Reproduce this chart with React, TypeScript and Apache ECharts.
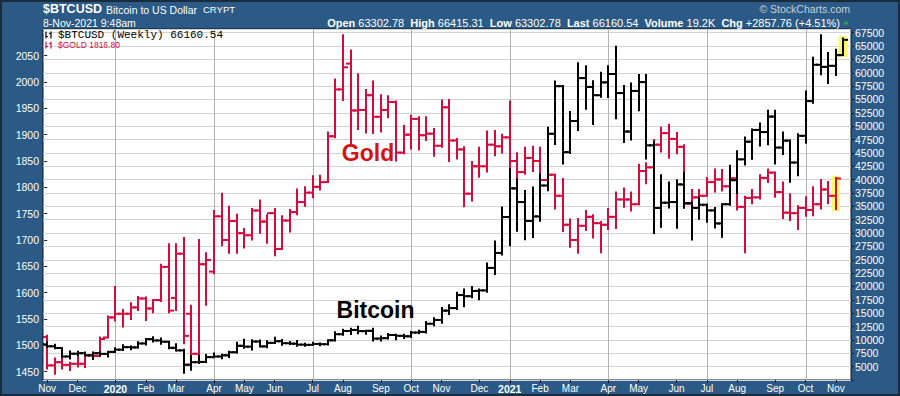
import React, { useEffect, useRef } from "react";
import * as echarts from "echarts";

// ---- weekly bars, first week = 4-Nov-2019 (index 0) ----
// Bitcoin weekly [open, high, low, close]
const btcBars: number[][] = [
  [9180, 9505, 8720, 8810], [8810, 9100, 8450, 8500], [8500, 8510, 6790, 6900], [6900, 7820, 6530, 7420],
  [7420, 7800, 7150, 7510], [7510, 7640, 7080, 7110], [7110, 7520, 6430, 7510], [7510, 7700, 7050, 7390],
  [7390, 7800, 6900, 7760], [7760, 8460, 7740, 8180], [8180, 9000, 8110, 8650], [8650, 8750, 8270, 8600],
  [8600, 9560, 8570, 9340], [9340, 10160, 9140, 10150], [10150, 10500, 9700, 9900], [9900, 10250, 9300, 9660],
  [9660, 9680, 8450, 8520], [8520, 9180, 8000, 8040], [8040, 8170, 3850, 5360], [5360, 6950, 4440, 5830],
  [5830, 6980, 5700, 5880], [5880, 7200, 5860, 6780], [6780, 7470, 6780, 6900], [6900, 7240, 6570, 7120],
  [7120, 7780, 6800, 7700], [7700, 9460, 7670, 8900], [8900, 10050, 8530, 8740], [8740, 9950, 8200, 9700],
  [9700, 9900, 8780, 8790], [8790, 9740, 8640, 9450], [9450, 10400, 9430, 9760], [9760, 10000, 9120, 9390],
  [9390, 9590, 9230, 9300], [9300, 9800, 8910, 9120], [9120, 9280, 8900, 9080], [9080, 9460, 9060, 9250],
  [9250, 9350, 9010, 9200], [9200, 9950, 9140, 9930], [9930, 11430, 9880, 11070], [11070, 11900, 10950, 11680],
  [11680, 12090, 11100, 11870], [11870, 12470, 11270, 11650], [11650, 11720, 11150, 11700], [11700, 12090, 9900, 10250],
  [10250, 10650, 9880, 10330], [10330, 11100, 10270, 10920], [10920, 10990, 10140, 10770], [10770, 10950, 10380, 10680],
  [10680, 11490, 10540, 11380], [11380, 11720, 11230, 11500], [11500, 13350, 11410, 13030], [13030, 14060, 12750, 13740],
  [13740, 15970, 13230, 15480], [15480, 16480, 14840, 15960], [15960, 18820, 15800, 18400], [18400, 19420, 16300, 18180],
  [18180, 19920, 18000, 19170], [19170, 19420, 17600, 19270], [19270, 24300, 19000, 23480], [23480, 28420, 22350, 26280],
  [26280, 34800, 25980, 33000], [33000, 41950, 27700, 38360], [38360, 40100, 30420, 35800], [35800, 37850, 28850, 32270],
  [32270, 38530, 29240, 33110], [33110, 40940, 32300, 38900], [38900, 49700, 37990, 48580], [48580, 58350, 46650, 57490],
  [57490, 57530, 43000, 45140], [45140, 52640, 45000, 50970], [50970, 61800, 49300, 59000], [59000, 61200, 53270, 57350],
  [57350, 58420, 50430, 55800], [55800, 60000, 55490, 58200], [58200, 61220, 55470, 59770], [59770, 64850, 51500, 56200],
  [56200, 57500, 47050, 49000], [49000, 58000, 47500, 56600], [56600, 59600, 53000, 58250], [58250, 59600, 43960, 46420],
  [46420, 47000, 30000, 34700], [34700, 40840, 31200, 35680], [35680, 39450, 34800, 35800], [35800, 39900, 31000, 39100],
  [39100, 41300, 34850, 35600], [35600, 35750, 28800, 34700], [34700, 36600, 32700, 35300], [35300, 35300, 32100, 34240],
  [34240, 34700, 31020, 31800], [31800, 35400, 29300, 35400], [35400, 42600, 35300, 39900], [39900, 45300, 37500, 43800],
  [43800, 47900, 42850, 47100], [47100, 49400, 43900, 49300], [49300, 50500, 46400, 48900], [48900, 52900, 46600, 51800],
  [51800, 52900, 43000, 46000], [46000, 48800, 44800, 47300], [47300, 47300, 39600, 43200], [43200, 48500, 40800, 48200],
  [48200, 56500, 46900, 54700], [54700, 62800, 54400, 61500], [61500, 67000, 59700, 61100], [61100, 63700, 58100, 61300],
  [61300, 64300, 59600, 63300], [63302.78, 66415.31, 63302.78, 66160.54],
];

// Gold weekly [open, high, low, close]
const goldBars: number[][] = [
  [1516, 1518, 1456, 1462], [1462, 1475, 1446, 1468], [1468, 1480, 1456, 1463], [1463, 1467, 1453, 1465],
  [1465, 1485, 1460, 1465], [1465, 1485, 1459, 1481], [1481, 1487, 1474, 1480], [1480, 1515, 1480, 1512],
  [1515, 1555, 1515, 1553], [1553, 1611, 1547, 1560], [1560, 1567, 1536, 1560], [1560, 1580, 1550, 1572],
  [1572, 1592, 1567, 1589], [1589, 1591, 1548, 1570], [1570, 1586, 1563, 1586], [1586, 1653, 1584, 1649],
  [1649, 1692, 1563, 1566], [1590, 1692, 1567, 1674], [1674, 1704, 1504, 1518], [1560, 1575, 1470, 1484],
  [1484, 1700, 1482, 1654], [1654, 1675, 1577, 1662], [1640, 1755, 1637, 1745], [1745, 1788, 1690, 1700],
  [1700, 1763, 1676, 1736], [1736, 1748, 1676, 1713], [1713, 1721, 1686, 1709], [1709, 1759, 1701, 1756],
  [1756, 1775, 1714, 1735], [1735, 1747, 1695, 1751], [1751, 1759, 1671, 1683], [1683, 1745, 1683, 1737],
  [1737, 1757, 1716, 1753], [1753, 1796, 1749, 1772], [1772, 1800, 1765, 1790], [1790, 1821, 1781, 1801],
  [1801, 1822, 1796, 1810], [1810, 1904, 1810, 1897], [1897, 2005, 1895, 1986], [1986, 2089, 1966, 2028],
  [2035, 2060, 1884, 1946], [1946, 2015, 1911, 1947], [1947, 1985, 1904, 1975], [1975, 2001, 1903, 1934],
  [1934, 1975, 1906, 1947], [1947, 1973, 1933, 1962], [1962, 1963, 1851, 1866], [1866, 1917, 1865, 1900],
  [1900, 1936, 1874, 1930], [1930, 1933, 1872, 1899], [1899, 1933, 1890, 1902], [1902, 1911, 1860, 1879],
  [1879, 1965, 1877, 1952], [1952, 1966, 1850, 1889], [1889, 1892, 1855, 1872], [1872, 1876, 1764, 1788],
  [1788, 1848, 1775, 1840], [1840, 1875, 1820, 1840], [1840, 1906, 1830, 1881], [1881, 1907, 1861, 1878],
  [1878, 1900, 1866, 1895], [1895, 1963, 1836, 1850], [1850, 1865, 1817, 1829], [1829, 1875, 1826, 1856],
  [1856, 1877, 1831, 1850], [1850, 1875, 1785, 1814], [1814, 1855, 1805, 1824], [1824, 1824, 1760, 1784],
  [1784, 1816, 1717, 1729], [1729, 1739, 1687, 1700], [1700, 1740, 1676, 1727], [1727, 1755, 1719, 1744],
  [1744, 1747, 1705, 1732], [1732, 1734, 1677, 1729], [1729, 1759, 1721, 1744], [1744, 1790, 1723, 1777],
  [1777, 1798, 1763, 1777], [1777, 1790, 1756, 1768], [1768, 1843, 1768, 1831], [1831, 1846, 1808, 1838],
  [1838, 1890, 1838, 1881], [1881, 1913, 1868, 1903], [1903, 1919, 1856, 1892], [1892, 1903, 1865, 1877],
  [1877, 1880, 1761, 1769], [1769, 1795, 1767, 1781], [1781, 1795, 1750, 1784], [1784, 1818, 1784, 1810],
  [1810, 1834, 1792, 1815], [1815, 1833, 1794, 1802], [1802, 1832, 1794, 1817], [1817, 1832, 1758, 1763],
  [1763, 1782, 1677, 1780], [1780, 1795, 1770, 1781], [1781, 1823, 1779, 1818], [1818, 1834, 1810, 1828],
  [1828, 1828, 1782, 1791], [1791, 1809, 1742, 1752], [1752, 1787, 1738, 1751], [1751, 1764, 1721, 1761],
  [1761, 1781, 1746, 1757], [1757, 1800, 1747, 1768], [1768, 1814, 1760, 1796], [1796, 1810, 1770, 1784],
  [1784, 1818, 1759, 1816.8],
];

// month labels at the first weekly bar of each month
const monthIdx = [0, 4, 9, 13, 17, 22, 26, 30, 35, 39, 44, 48, 52, 57, 61, 65, 69, 74, 78, 83, 87, 91, 96, 100, 104];
const monthLbl = ["Nov", "Dec", "2020", "Feb", "Mar", "Apr", "May", "Jun", "Jul", "Aug", "Sep", "Oct", "Nov",
  "Dec", "2021", "Feb", "Mar", "Apr", "May", "Jun", "Jul", "Aug", "Sep", "Oct", "Nov"];
const quarterIdx = [9, 22, 35, 48, 61, 74, 87, 100];
const goldTicks = [1450, 1500, 1550, 1600, 1650, 1700, 1750, 1800, 1850, 1900, 1950, 2000, 2050];

const BLUE = "#2a5a85";
const RED = "#d50a3d";
const FONT = "'Liberation Sans', Arial, Helvetica, sans-serif";
const TICKC = "#0e1b28";

function ohlcRenderer(color: string) {
  return (params: any, api: any) => {
    const i = api.value(0);
    const o = api.coord([i, api.value(1)]);
    const h = api.coord([i, api.value(2)]);
    const l = api.coord([i, api.value(3)]);
    const c = api.coord([i, api.value(4)]);
    const x = Math.round(h[0]);
    const st = { stroke: color, lineWidth: 2, fill: null };
    return {
      type: "group",
      children: [
        { type: "line", shape: { x1: x, y1: h[1] - 1, x2: x, y2: l[1] + 1 }, style: st },
        { type: "line", shape: { x1: x - 5, y1: o[1], x2: x, y2: o[1] }, style: st },
        { type: "line", shape: { x1: x, y1: c[1], x2: x + 5, y2: c[1] }, style: st },
      ],
    };
  };
}

function highlightRenderer(params: any, api: any) {
  const i = api.value(0);
  const lo = api.coord([i, api.value(1)]);
  const hi = api.coord([i, api.value(2)]);
  const x = Math.round(lo[0]);
  return {
    type: "rect",
    shape: { x: x - 4.5, y: hi[1] - 2, width: 8.5, height: lo[1] - hi[1] + 4 },
    style: { fill: "#fbfb6a" },
  };
}

function quarterRenderer(params: any, api: any) {
  const p = api.coord([api.value(0), api.value(1)]);
  const cs = params.coordSys;
  const x = Math.round(p[0]) + 0.5;
  return {
    type: "line",
    shape: { x1: x, y1: cs.y, x2: x, y2: cs.y + cs.height },
    style: { stroke: "#b3b3b3", lineWidth: 1 },
  };
}

function ohlcIcon(x: number, y: number, color: string) {
  const st = { stroke: color, lineWidth: 1.2 };
  return [
    { type: "line", z: 20, shape: { x1: x, y1: y - 3.5, x2: x, y2: y + 3.5 }, style: st },
    { type: "line", z: 20, shape: { x1: x, y1: y + 1.5, x2: x + 2, y2: y + 1.5 }, style: st },
    { type: "line", z: 20, shape: { x1: x + 5, y1: y - 3.5, x2: x + 5, y2: y + 3.5 }, style: st },
    { type: "line", z: 20, shape: { x1: x + 3, y1: y - 1.5, x2: x + 5, y2: y - 1.5 }, style: st },
  ];
}

export default function App() {
  const ref = useRef<HTMLDivElement>(null);
  useEffect(() => {
    document.body.style.margin = "0";
    const chart = echarts.init(ref.current!, null, { renderer: "svg" });
    const lastB = btcBars.length - 1;
    const lastG = goldBars.length - 1;
    const option: any = {
      animation: false,
      backgroundColor: BLUE,
      grid: {
        left: 43, right: 49, top: 29, bottom: 16, show: true,
        backgroundColor: "#ffffff", borderColor: "#0c1620", borderWidth: 1,
        containLabel: false, outerBoundsMode: "none",
      },
      xAxis: {
        type: "value", min: -0.55, max: 106.0,
        axisLine: { show: false }, splitLine: { show: false },
        axisTick: { show: true, customValues: monthIdx, length: 3, lineStyle: { color: TICKC } },
        axisLabel: {
          customValues: monthIdx, margin: 3, color: "#ffffff", fontSize: 10, fontFamily: FONT,
          formatter: (v: number) => {
            const k = monthIdx.indexOf(Math.round(v));
            const s = k >= 0 ? monthLbl[k] : "";
            return /^\d/.test(s) ? "{y|" + s + "}" : s;
          },
          rich: { y: { fontWeight: "bold", color: "#ffffff", fontSize: 10.5, fontFamily: FONT } },
        },
      },
      yAxis: [
        {
          type: "value", position: "left", min: 1434.2, max: 2100.7,
          axisLine: { show: false }, splitLine: { show: false },
          axisTick: { show: true, customValues: goldTicks, length: 3, lineStyle: { color: TICKC } },
          axisLabel: {
            customValues: goldTicks, margin: 4, color: "#ffffff", fontSize: 10.5, fontFamily: FONT,
            formatter: (v: number) => String(Math.round(v)),
          },
        },
        {
          type: "value", position: "right", min: 2500, max: 68190, interval: 2500,
          axisLine: { show: false },
          splitLine: { show: true, lineStyle: { color: "#d3d3d3", width: 1 } },
          axisTick: { show: true, length: 3, lineStyle: { color: TICKC } },
          axisLabel: {
            margin: 4, color: "#ffffff", fontSize: 10.5, fontFamily: FONT,
            formatter: (v: number) => (v < 5000 ? "" : String(v)),
          },
        },
      ],
      series: [
        {
          type: "custom", name: "quarters", silent: true, z: 1, yAxisIndex: 1,
          data: quarterIdx.map((i) => [i, 30000]), encode: { x: 0, y: 1 },
          renderItem: quarterRenderer,
        },
        {
          type: "custom", name: "btcLast", silent: true, z: 1, yAxisIndex: 1,
          data: [[lastB, btcBars[lastB][2], btcBars[lastB][1]]], encode: { x: 0, y: [1, 2] },
          renderItem: highlightRenderer,
        },
        {
          type: "custom", name: "goldLast", silent: true, z: 1, yAxisIndex: 0,
          data: [[lastG, goldBars[lastG][2], goldBars[lastG][1]]], encode: { x: 0, y: [1, 2] },
          renderItem: highlightRenderer,
        },
        {
          type: "custom", name: "$GOLD", z: 2, yAxisIndex: 0, clip: true,
          data: goldBars.map((b, i) => [i, ...b]), encode: { x: 0, y: [1, 2, 3, 4] },
          renderItem: ohlcRenderer(RED),
        },
        {
          type: "custom", name: "$BTCUSD", z: 3, yAxisIndex: 1, clip: true,
          data: btcBars.map((b, i) => [i, ...b]), encode: { x: 0, y: [1, 2, 3, 4] },
          renderItem: ohlcRenderer("#000000"),
        },
      ],
      graphic: [
        { type: "rect", z: 30, shape: { x: 1, y: 1, width: 898, height: 394 }, style: { fill: "none", stroke: "#1a2c3c", lineWidth: 2 } },
        { type: "text", z: 20, x: 43, y: 9, style: { text: "$BTCUSD", fill: "#fff", fontSize: 12.5, fontWeight: "bold", fontFamily: FONT, align: "left", verticalAlign: "middle" } },
        { type: "text", z: 20, x: 106, y: 9.5, style: { text: "Bitcoin to US Dollar", fill: "#fff", fontSize: 10.5, fontFamily: FONT, align: "left", verticalAlign: "middle" } },
        { type: "text", z: 20, x: 203, y: 9.5, style: { text: "CRYPT", fill: "#fff", fontSize: 9.5, fontFamily: FONT, align: "left", verticalAlign: "middle" } },
        { type: "text", z: 20, x: 43, y: 22.7, style: { text: "8-Nov-2021 9:48am", fill: "#fff", fontSize: 10.5, fontFamily: FONT, align: "left", verticalAlign: "middle" } },
        {
          type: "text", z: 20, x: 840, y: 22.7,
          style: {
            text: "{b|Open} 63302.78  {b|High} 66415.31  {b|Low} 63302.78  {b|Last} 66160.54  {b|Volume} 19.2K  {b|Chg} +2857.76 (+4.51%)",
            fill: "#fff", fontSize: 11, fontFamily: FONT, align: "right", verticalAlign: "middle",
            rich: { b: { fontWeight: "bold", fill: "#fff", fontSize: 11, fontFamily: FONT } },
          },
        },
        { type: "polygon", z: 20, shape: { points: [[843, 24.5], [849, 24.5], [846, 20.5]] }, style: { fill: "#3f9a46" } },
        { type: "text", z: 20, x: 850, y: 9.3, style: { text: "© StockCharts.com", fill: "#c6d1dc", fontSize: 10.5, fontFamily: FONT, align: "right", verticalAlign: "middle" } },
        ...ohlcIcon(46, 35, "#000"),
        ...ohlcIcon(46, 45, RED),
        { type: "text", z: 20, x: 58, y: 35, style: { text: "$BTCUSD (Weekly) 66160.54", fill: "#000", fontSize: 11, fontFamily: "'Liberation Mono', 'DejaVu Sans Mono', monospace", align: "left", verticalAlign: "middle" } },
        { type: "text", z: 20, x: 58, y: 45, style: { text: "$GOLD 1816.80", fill: RED, fontSize: 8.5, fontFamily: FONT, align: "left", verticalAlign: "middle" } },
        { type: "text", z: 20, x: 368, y: 152.5, style: { text: "Gold", fill: "#d11414", fontSize: 23, fontWeight: "bold", fontFamily: FONT, align: "center", verticalAlign: "middle" } },
        { type: "text", z: 20, x: 375.5, y: 309.5, style: { text: "Bitcoin", fill: "#000", fontSize: 23, fontWeight: "bold", fontFamily: FONT, align: "center", verticalAlign: "middle" } },
      ],
    };
    chart.setOption(option);
    return () => chart.dispose();
  }, []);
  return (
    <div
      ref={ref}
      style={{ position: "absolute", left: 0, top: 0, width: 900, height: 396, background: BLUE }}
    />
  );
}
